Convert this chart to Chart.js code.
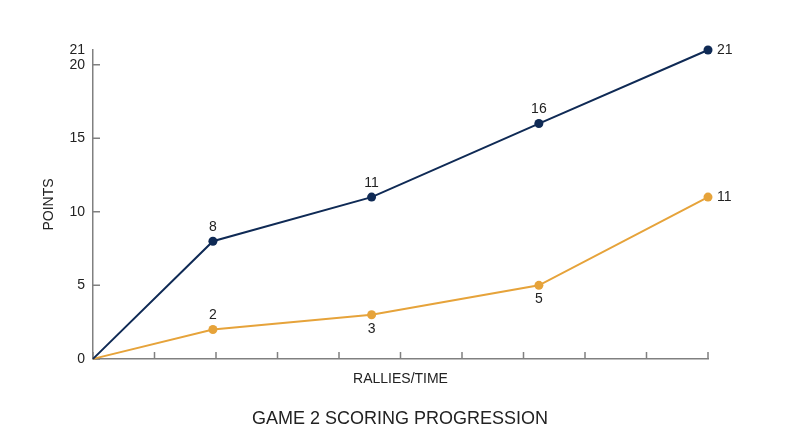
<!DOCTYPE html>
<html>
<head>
<meta charset="utf-8">
<script src="https://cdn.jsdelivr.net/npm/chart.js@4/dist/chart.umd.min.js"></script>
<style>
  html, body { margin: 0; padding: 0; background: #fff; }
  #wrap { width: 800px; height: 447px; }
</style>
</head>
<body>
<div id="wrap"><canvas id="myChart" width="800" height="447"></canvas></div>
<script>
// rally position along the x axis (0..10) and points for each side
var rallies = [0, 1.95, 4.53, 7.25, 10];
var navyPoints = [0, 8, 11, 16, 21];
var goldPoints = [0, 2, 3, 5, 11];
var yTickLabels = [0, 5, 10, 15, 20, 21];
var yTickMarks = [0, 5, 10, 15, 20];
var xTickMarks = [0, 1, 2, 3, 4, 5, 6, 7, 8, 9, 10];

var NAVY = '#0f2a55';
var GOLD = '#e6a33a';
var AXIS = '#808080';
var TEXT = '#222222';
var FONT = '"Liberation Sans", Arial, sans-serif';

// where each value label sits relative to its point
var navyLabelPos = ['none', 'above', 'above', 'above', 'right'];
var goldLabelPos = ['none', 'above', 'below', 'below', 'right'];

function toXY(xs, ys) {
  var out = [];
  for (var i = 0; i < xs.length; i++) out.push({ x: xs[i], y: ys[i] });
  return out;
}

// inward tick marks on both axes
var tickMarks = {
  id: 'tickMarks',
  beforeDatasetsDraw: function (chart) {
    var ctx = chart.ctx;
    var xs = chart.scales.x, ys = chart.scales.y;
    var area = chart.chartArea;
    ctx.save();
    ctx.strokeStyle = AXIS;
    ctx.lineWidth = 1.5;
    ctx.beginPath();
    yTickMarks.forEach(function (v) {
      var py = ys.getPixelForValue(v);
      ctx.moveTo(area.left, py);
      ctx.lineTo(area.left + 7, py);
    });
    xTickMarks.forEach(function (v) {
      var px = xs.getPixelForValue(v);
      ctx.moveTo(px, area.bottom);
      ctx.lineTo(px, area.bottom - 7);
    });
    ctx.stroke();
    ctx.restore();
  }
};

// value labels next to the points
var valueLabels = {
  id: 'valueLabels',
  afterDatasetsDraw: function (chart) {
    var ctx = chart.ctx;
    ctx.save();
    ctx.font = '14px ' + FONT;
    ctx.fillStyle = TEXT;
    ctx.textBaseline = 'middle';
    chart.data.datasets.forEach(function (ds, di) {
      var meta = chart.getDatasetMeta(di);
      var pos = ds.labelPos;
      meta.data.forEach(function (pt, i) {
        if (pos[i] == 'none') return;
        var txt = String(ds.data[i].y);
        if (pos[i] == 'right') {
          ctx.textAlign = 'left';
          ctx.fillText(txt, pt.x + 9, pt.y);
        } else if (pos[i] == 'above') {
          ctx.textAlign = 'center';
          ctx.fillText(txt, pt.x, pt.y - 14);
        } else {
          ctx.textAlign = 'center';
          ctx.fillText(txt, pt.x, pt.y + 14);
        }
      });
    });
    ctx.restore();
  }
};

var ctx = document.getElementById('myChart').getContext('2d');
var myChart = new Chart(ctx, {
  type: 'line',
  data: {
    datasets: [{
      label: 'Winner',
      data: toXY(rallies, navyPoints),
      borderColor: NAVY,
      backgroundColor: NAVY,
      borderWidth: 2,
      pointRadius: function (c) { return c.dataIndex === 0 ? 0 : 4.5; },
      pointBorderWidth: 0,
      tension: 0,
      clip: false,
      labelPos: navyLabelPos
    }, {
      label: 'Opponent',
      data: toXY(rallies, goldPoints),
      borderColor: GOLD,
      backgroundColor: GOLD,
      borderWidth: 2,
      pointRadius: function (c) { return c.dataIndex === 0 ? 0 : 4.5; },
      pointBorderWidth: 0,
      tension: 0,
      clip: false,
      labelPos: goldLabelPos
    }]
  },
  options: {
    responsive: false,
    animation: false,
    layout: { padding: { top: 50, right: 0, left: 0, bottom: 0 } },
    plugins: {
      legend: { display: false },
      tooltip: { enabled: false },
      title: {
        display: true,
        position: 'bottom',
        text: 'GAME 2 SCORING PROGRESSION',
        color: TEXT,
        font: { family: FONT, size: 18, weight: 'normal' },
        padding: { top: 0, bottom: 17 }
      }
    },
    scales: {
      x: {
        type: 'linear',
        min: 0,
        max: 10,
        grid: { display: false, drawTicks: false, tickLength: 0 },
        border: { display: true, color: AXIS, width: 1.5 },
        ticks: { display: false },
        title: {
          display: true,
          text: 'RALLIES/TIME',
          color: TEXT,
          font: { family: FONT, size: 14 },
          padding: { top: 0, bottom: 21 }
        },
        afterFit: function (scale) { scale.height = 49.5; }
      },
      y: {
        min: 0,
        max: 21,
        grid: { display: false, drawTicks: false, tickLength: 0 },
        border: { display: true, color: AXIS, width: 1.5 },
        afterBuildTicks: function (scale) {
          scale.ticks = yTickLabels.map(function (v) { return { value: v }; });
        },
        ticks: {
          autoSkip: false,
          color: TEXT,
          padding: 8,
          font: { family: FONT, size: 14 }
        },
        title: {
          display: true,
          text: 'POINTS',
          color: TEXT,
          font: { family: FONT, size: 14 },
          padding: { top: 41, bottom: 0 }
        },
        afterFit: function (scale) { scale.width = 93; }
      },
      // empty right-hand axis, only reserves the blank space on the right
      yRight: {
        position: 'right',
        min: 0,
        max: 21,
        grid: { display: false, drawTicks: false },
        border: { display: false },
        ticks: { display: false },
        afterFit: function (scale) { scale.width = 92; }
      }
    }
  },
  plugins: [tickMarks, valueLabels]
});
</script>
</body>
</html>
